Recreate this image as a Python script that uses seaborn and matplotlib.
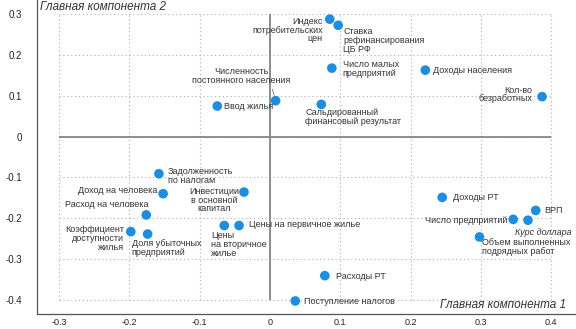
import numpy as np
import pandas as pd
import matplotlib
matplotlib.use("Agg")
import matplotlib.pyplot as plt
import seaborn as sns

# ---- data ----
names = [
    "Индекс\nпотребительских\nцен",
    "Ставка\nрефинансирования\nЦБ РФ",
    "Число малых\nпредприятий",
    "Доходы населения",
    "Кол-во\nбезработных",
    "Сальдированный\nфинансовый результат",
    "Ввод жилья",
    "Численность\nпостоянного населения",
    "Задолженность\nпо налогам",
    "Доход на человека",
    "Инвестиции\nв основной\nкапитал",
    "Расход на человека",
    "Коэффициент\nдоступности\nжилья",
    "Доля убыточных\nпредприятий",
    "Цены\nна вторичное\nжилье",
    "Цены на первичное жилье",
    "Доходы РТ",
    "ВРП",
    "Число предприятий",
    "Курс доллара",
    "Объем выполненных\nподрядных работ",
    "Расходы РТ",
    "Поступление налогов",
]
pc1 = [0.085, 0.097, 0.088, 0.221, 0.387, 0.073, -0.075, 0.008,
       -0.158, -0.152, -0.037, -0.176, -0.198, -0.174, -0.065, -0.044,
       0.245, 0.378, 0.346, 0.367, 0.298, 0.078, 0.036]
pc2 = [0.288, 0.273, 0.168, 0.163, 0.098, 0.079, 0.075, 0.088,
       -0.091, -0.140, -0.136, -0.192, -0.233, -0.239, -0.218, -0.218,
       -0.149, -0.181, -0.203, -0.205, -0.246, -0.341, -0.403]
x_ticks = [-0.3, -0.2, -0.1, 0, 0.1, 0.2, 0.3, 0.4]
y_ticks = [-0.4, -0.3, -0.2, -0.1, 0, 0.1, 0.2, 0.3]
x_title = "Главная компонента 1"
y_title = "Главная компонента 2"

# ---- label layout (pixel offsets from the point, alignment) ----
label_layout = [
    (-7, 2, "right", "top"),
    (5, -2, "left", "top"),
    (11, 8, "left", "top"),
    (8, 0, "left", "center"),
    (-10, 2, "right", "center"),
    (-16, -4, "left", "top"),
    (7, 0, "left", "center"),
    (-34, 25, "center", "center"),
    (9, -2, "left", "center"),
    (-6, 3, "right", "center"),
    (-30, -8, "center", "center"),
    (2, 10, "right", "center"),
    (-7, -7, "right", "center"),
    (-16, -14, "left", "center"),
    (-13, -19, "left", "center"),
    (10, 1, "left", "center"),
    (11, 0, "left", "center"),
    (9, 0, "left", "center"),
    (-6, -1, "right", "center"),
    (-13, -12, "left", "center"),
    (3, -10, "left", "center"),
    (11, -1, "left", "center"),
    (9, -1, "left", "center"),
]

df = pd.DataFrame({"name": names, "pc1": pc1, "pc2": pc2})

sns.set_style("white")
plt.rcParams["font.family"] = ["Liberation Sans", "DejaVu Sans"]

W, H, DPI = 576, 329, 100
AX_L, AX_B = 37, 314  # left spine x, bottom spine y (pixels from top-left)
fig = plt.figure(figsize=(W / DPI, H / DPI), dpi=DPI)
ax = fig.add_axes([AX_L / W, (H - AX_B) / H, 1 - AX_L / W, AX_B / H])

ax.set_xlim(-0.3314, 0.4353)
ax.set_ylim(-0.435, 0.335)

# dotted grid confined to the tick range
gx0, gx1 = min(x_ticks), max(x_ticks)
gy0, gy1 = min(y_ticks), max(y_ticks)
grid_kw = dict(color="#b0b0b0", linewidth=0.8, linestyle=(0, (1, 2.5)), zorder=1)
ax.vlines(x_ticks, gy0, gy1, **grid_kw)
ax.hlines(y_ticks, gx0, gx1, **grid_kw)
# zero axes
ax.vlines([0], gy0, gy1, color="#858585", linewidth=1.3, zorder=2)
ax.hlines([0], gx0, gx1, color="#858585", linewidth=1.3, zorder=2)

sns.scatterplot(data=df, x="pc1", y="pc2", ax=ax, s=48, color="#1a8de4",
                edgecolor="none", linewidth=0, zorder=4, legend=False)

for i, (nm, xv, yv) in enumerate(zip(names, pc1, pc2)):
    dx, dy, ha, va = label_layout[i]
    style = "italic" if nm == "Курс доллара" else "normal"
    kw = {}
    if nm.startswith("Численность"):
        kw["arrowprops"] = dict(arrowstyle="-", color="#888888", lw=0.7,
                                relpos=(0.8, 0.0), shrinkA=1, shrinkB=4)
    ax.annotate(nm, xy=(xv, yv), xytext=(dx, dy), textcoords="offset pixels",
                ha=ha, va=va, multialignment=ha,
                fontsize=6.5, color="#333333", linespacing=0.95, style=style,
                zorder=5, **kw)

# axes titles inside the plot
ax.text(0.005, 0.997, y_title, transform=ax.transAxes,
        ha="left", va="top", fontsize=8.5, style="italic", color="#333333")
ax.text(0.982, 0.008, x_title, transform=ax.transAxes,
        ha="right", va="bottom", fontsize=8.5, style="italic", color="#333333")

# spines and ticks
for s in ["top", "right"]:
    ax.spines[s].set_visible(False)
for s in ["left", "bottom"]:
    ax.spines[s].set_color("#555555")
    ax.spines[s].set_linewidth(0.9)

ax.set_xticks(x_ticks)
ax.set_yticks(y_ticks)
ax.set_xticklabels(["0" if v == 0 else f"{v:g}" for v in x_ticks])
ax.set_yticklabels(["0" if v == 0 else f"{v:g}" for v in y_ticks])
ax.xaxis.set_minor_locator(matplotlib.ticker.MultipleLocator(0.01))
ax.yaxis.set_minor_locator(matplotlib.ticker.MultipleLocator(0.01))
ax.tick_params(axis="both", which="major", direction="out",
               width=0.8, color="#555555", labelcolor="#222222")
ax.tick_params(axis="x", which="major", length=2.5, pad=0.3, labelsize=6.5)
ax.tick_params(axis="y", which="major", length=7, pad=4, labelsize=7)
ax.tick_params(axis="both", which="minor", direction="out", length=2.5,
               width=0.6, color="#666666")
ax.tick_params(axis="x", which="minor", length=1.5)
ax.set_xlabel("")
ax.set_ylabel("")

fig.savefig("out.png", dpi=DPI)
